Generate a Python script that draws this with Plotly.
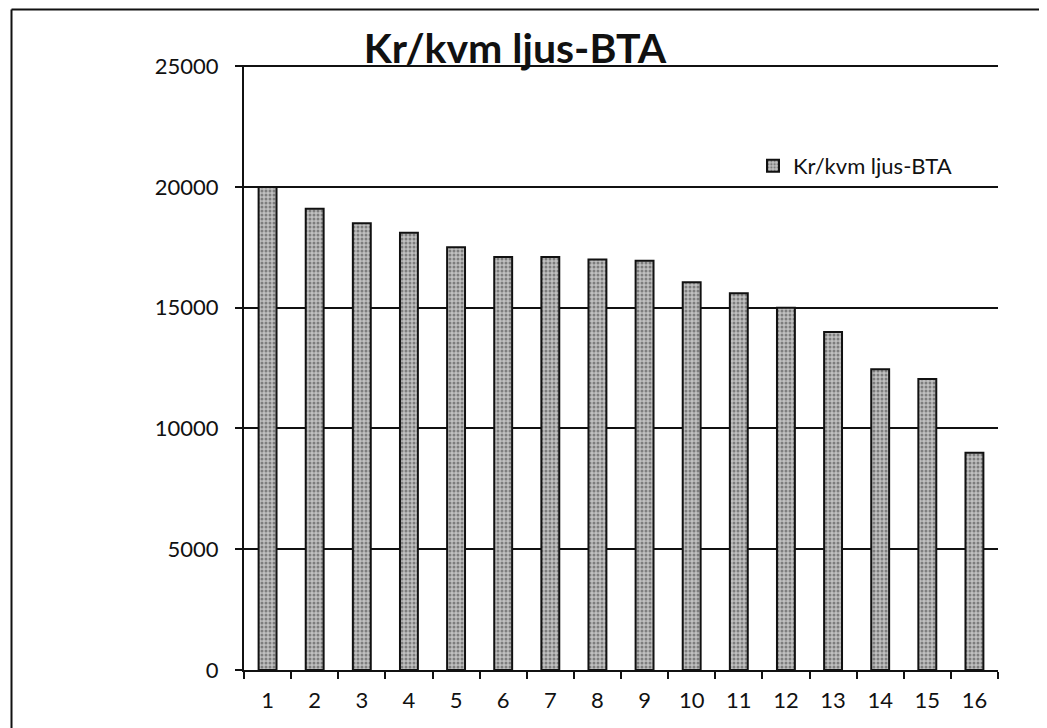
import plotly.graph_objects as go

categories = [str(i) for i in range(1, 17)]
values = [20000, 19100, 18500, 18100, 17500, 17100, 17100, 17000,
          16950, 16050, 15600, 15000, 14000, 12450, 12050, 9000]
series_name = "Kr/kvm ljus-BTA"
title_text = "Kr/kvm ljus-BTA"
y_ticks = [0, 5000, 10000, 15000, 20000, 25000]
y_tick_labels = ["0", "5000", "10000", "15000", "20000", "25000"]

L, T, R, B = 236, 57, 57, 66
W, H = 1047, 728
PW, PH = W - L - R, H - T - B

fig = go.Figure()
fig.add_trace(go.Bar(
    x=categories, y=values, name=series_name,
    marker=dict(
        color="#b0b0b0",
        line=dict(color="#111111", width=2),
        pattern=dict(shape=".", fgcolor="#3a3a3a", bgcolor="#c0c0c0", size=4, solidity=0.45),
    ),
    width=0.38,
))

fig.update_layout(
    width=W, height=H,
    paper_bgcolor="white", plot_bgcolor="white",
    margin=dict(l=L, r=R, t=T, b=B),
    font=dict(family="Lato, Open Sans, sans-serif", color="#111111", size=22),
    title=dict(text="<b>" + title_text + "</b>", x=507/W, xanchor="center",
               yref="container", y=1 - 55/H, yanchor="bottom",
               font=dict(size=41, family="Lato, sans-serif")),
    showlegend=True,
    legend=dict(x=(745-L)/PW, y=1 - (158-T)/PH, xanchor="left", yanchor="middle",
                bgcolor="rgba(0,0,0,0)", font=dict(size=22)),
    bargap=0.62,
)
fig.update_xaxes(
    type="category", tickson="boundaries", ticks="outside", ticklen=7, tickwidth=2,
    tickcolor="#111111", showline=True, linecolor="#111111", linewidth=2,
    showgrid=False, tickfont=dict(size=22), ticklabelstandoff=10,
)
fig.update_yaxes(
    range=[0, 25050], tickvals=y_ticks, ticktext=y_tick_labels, ticks="outside",
    ticklen=7, tickwidth=2,
    tickcolor="#111111", showline=True, linecolor="#111111", linewidth=2,
    showgrid=True, gridcolor="#111111", gridwidth=1.5, zeroline=False,
    tickfont=dict(size=22), ticklabelstandoff=12,
)
top_y = 1 + (T - 1.5) / PH
left_x = -(L - 3.5) / PW
fig.add_shape(type="line", xref="paper", yref="paper",
              x0=left_x, x1=(W - L) / PW, y0=top_y, y1=top_y,
              line=dict(color="#111111", width=2))
fig.add_shape(type="line", xref="paper", yref="paper",
              x0=left_x, x1=left_x, y0=top_y, y1=-B / PH,
              line=dict(color="#111111", width=2))

fig.write_html("out.html")
